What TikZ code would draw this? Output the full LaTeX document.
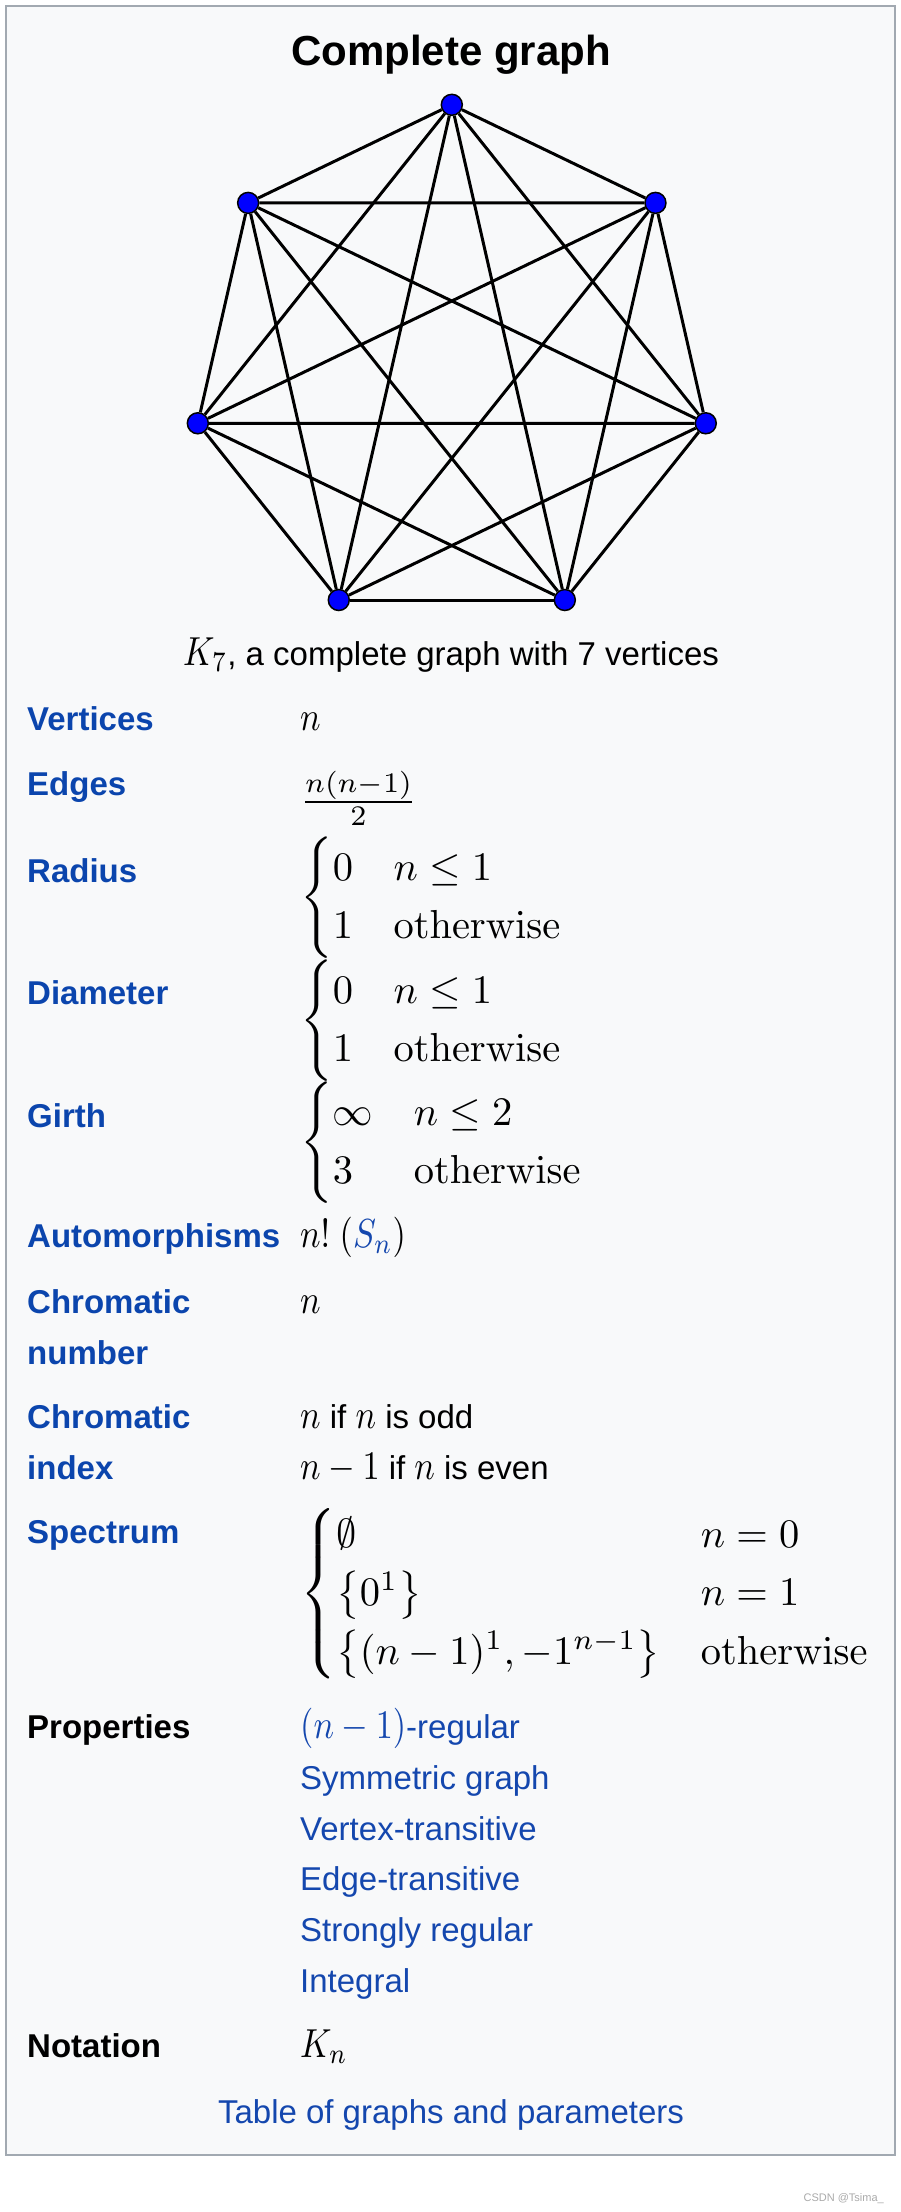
\documentclass[tikz,border=0pt]{standalone}
\usepackage{amsmath}
\usepackage{graphicx}
\usepackage[no-math]{fontspec}
\setmainfont{Liberation Sans}
\definecolor{lbl}{HTML}{0B45AD}
\definecolor{lnk}{HTML}{1447AE}
\definecolor{bgc}{HTML}{F8F9FA}
\definecolor{bdc}{HTML}{A2A9B1}
\definecolor{wmk}{HTML}{AAAAAA}
\newcommand{\mth}[1]{\scalebox{3.42}[4.05]{\fontsize{10}{12}\selectfont$#1$}}
\newcommand{\mtb}[1]{\scalebox{4.05}{\fontsize{10}{12}\selectfont$#1$}}
\tikzset{
  lab/.style={anchor=base west, inner sep=0pt, font=\fontsize{33}{40}\selectfont\bfseries, text=lbl},
  blab/.style={lab, text=black},
  val/.style={anchor=base west, inner sep=0pt, font=\fontsize{33}{40}\selectfont},
  lval/.style={val, text=lnk},
  mval/.style={anchor=west, inner sep=0pt},
  vtx/.style={circle, minimum size=21pt, inner sep=0pt, fill={rgb,255:red,0;green,0;blue,255}, draw=black, line width=1.5pt},
  edge/.style={draw=black, line width=3pt}
}
\begin{document}
\begin{tikzpicture}[x=1pt,y=-1pt]
\useasboundingbox (0,0) rectangle (900,2212);
\fill[white] (0,0) rectangle (900,2212);
\draw[draw=bdc, fill=bgc, line width=2pt] (6,6) rectangle (895,2155);
% title
\node[anchor=base, inner sep=0pt, font=\fontsize{42}{50}\selectfont\bfseries] (title) at (451,65) {Complete graph};
% graph K7
\foreach \k in {0,...,6} {
  \node[vtx] (v\k) at ({451.8+260.5*cos(90+\k*360/7)}, {365.3-260.5*sin(90+\k*360/7)}) {};
}
\foreach \i in {0,...,5} {
  \pgfmathtruncatemacro\s{\i+1}
  \foreach \j in {\s,...,6} {
    \draw[edge] (v\i) -- (v\j);
  }
}
% caption
\node[val, anchor=base] (cap) at (451,665) {\mth{K_7}, a complete graph with 7 vertices};
% rows
\node[lab] (l1) at (27,730) {Vertices};
\node[val] (r1) at (300,730) {\mth{n}};
\node[lab] (l2) at (27,795) {Edges};
\node[val] (r2) at (300,812) {\mtb{\frac{n(n-1)}{2}}};
\node[lab] (l3) at (27,882) {Radius};
\node[mval] (r3) at (300,898) {\mtb{\begin{cases}0 & n\le 1\\ 1 & \mathrm{otherwise}\end{cases}}};
\node[lab] (l4) at (27,1004) {Diameter};
\node[mval] (r4) at (300,1021) {\mtb{\begin{cases}0 & n\le 1\\ 1 & \mathrm{otherwise}\end{cases}}};
\node[lab] (l5) at (27,1127) {Girth};
\node[mval] (r5) at (300,1143) {\mtb{\begin{cases}\infty & n\le 2\\ 3 & \mathrm{otherwise}\end{cases}}};
\node[lab] (l6) at (27,1247) {Automorphisms};
\node[val] (r6) at (300,1247) {\mth{n!\;(\textcolor{lnk}{S_n})}};
\node[lab] (l7a) at (27,1313) {Chromatic};
\node[lab] (l7b) at (27,1364) {number};
\node[val] (r7) at (300,1313) {\mth{n}};
\node[lab] (l8a) at (27,1428) {Chromatic};
\node[lab] (l8b) at (27,1479) {index};
\node[val] (r8a) at (300,1428) {\mth{n} if \mth{n} is odd};
\node[val] (r8b) at (300,1479) {\mth{n-1} if \mth{n} is even};
\node[lab] (l9) at (27,1543) {Spectrum};
\node[mval] (r9) at (300,1594) {\mtb{\begin{cases}\emptyset & n=0\\ \left\{0^1\right\} & n=1\\ \left\{(n-1)^1,-1^{n-1}\right\} & \mathrm{otherwise}\end{cases}}};
\node[blab] (l10) at (27,1738) {Properties};
\node[lval] (p1) at (300,1738) {\mth{(n-1)}-regular};
\node[lval] (p2) at (300,1789) {Symmetric graph};
\node[lval] (p3) at (300,1840) {Vertex-transitive};
\node[lval] (p4) at (300,1890) {Edge-transitive};
\node[lval] (p5) at (300,1941) {Strongly regular};
\node[lval] (p6) at (300,1992) {Integral};
\node[blab] (l11) at (27,2057) {Notation};
\node[val] (r11) at (300,2057) {\mth{K_n}};
\node[lval, anchor=base] (foot) at (451,2123) {Table of graphs and parameters};
\node[anchor=base east, inner sep=0pt, font=\fontsize{11}{13}\selectfont, text=wmk] (wm) at (884,2201) {CSDN @Tsima\_};
\end{tikzpicture}
\end{document}
